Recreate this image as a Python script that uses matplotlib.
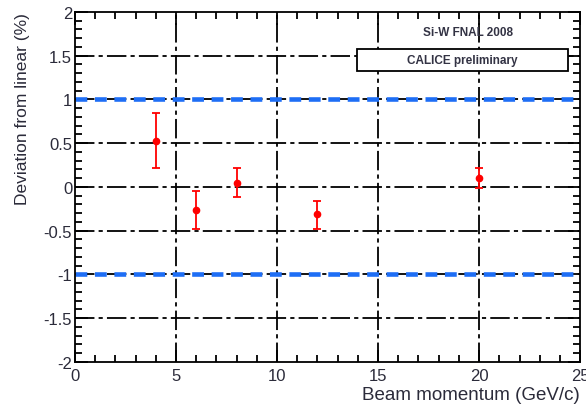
import matplotlib
matplotlib.use("Agg")
import matplotlib.pyplot as plt
from matplotlib.ticker import MultipleLocator
from matplotlib.patches import Rectangle

plt.rcParams['font.family'] = ['Liberation Sans', 'DejaVu Sans']
plt.rcParams['lines.scale_dashes'] = False

momentum = [4, 6, 8, 12, 20]
deviation = [0.52, -0.26, 0.05, -0.31, 0.10]
err_up = [0.32, 0.21, 0.17, 0.15, 0.12]
err_down = [0.30, 0.22, 0.17, 0.17, 0.115]
band = [1.0, -1.0]
x_ticks = [0, 5, 10, 15, 20, 25]
y_ticks = [-2, -1.5, -1, -0.5, 0, 0.5, 1, 1.5, 2]
y_ticklabels = ['-2', '-1.5', '-1', '-0.5', '0', '0.5', '1', '1.5', '2']

txt = '#2b2b3a'
fig = plt.figure(figsize=(5.86, 4.06), dpi=100)
ax = fig.add_axes([0.128, 0.106, 0.862, 0.862])
ax.set_xlim(0, 25)
ax.set_ylim(-2, 2)

grid_dash = (0, (14, 3, 3, 3))
for xv in x_ticks[1:-1]:
    ax.axvline(xv, color='black', lw=1.3, linestyle=grid_dash, zorder=1)
for yv in y_ticks[1:-1]:
    ax.axhline(yv, color='black', lw=1.3, linestyle=grid_dash, zorder=1)

for b in band:
    ax.axhline(b, color='#1e6ef5', lw=3.3, linestyle=(0, (8.5, 5.5)), zorder=2)

ax.errorbar(momentum, deviation, yerr=[err_down, err_up], fmt='o', color='red',
            ms=4.5, elinewidth=1.3, capsize=3, capthick=1.3, zorder=3)

ax.set_xticks(x_ticks)
ax.set_yticks(y_ticks)
ax.set_yticklabels(y_ticklabels)
ax.xaxis.set_minor_locator(MultipleLocator(1))
ax.yaxis.set_minor_locator(MultipleLocator(0.1))
ax.tick_params(which='both', direction='in', top=True, right=True, colors='black',
               labelcolor=txt, labelsize=12, width=1.3)
ax.tick_params(which='major', length=9)
ax.tick_params(axis='x', which='major', pad=4)
ax.tick_params(axis='y', which='major', pad=2)
ax.tick_params(which='minor', length=5)
for s in ax.spines.values():
    s.set_linewidth(1.3)

ax.set_xlabel('Beam momentum (GeV/c)', fontsize=13.5, color=txt)
ax.xaxis.set_label_coords(1.0, -0.07)
ax.xaxis.label.set_horizontalalignment('right')
ax.set_ylabel('Deviation from linear (%)', fontsize=12.5, color=txt, loc='top', labelpad=10)

ax.text(0.778, 0.943, 'Si-W FNAL 2008', transform=ax.transAxes, ha='center', va='center',
        fontsize=8.5, fontweight='bold', color='#333344')
ax.add_patch(Rectangle((0.558, 0.831), 0.418, 0.063, transform=ax.transAxes,
                       fc='white', ec='black', lw=1.3, zorder=5))
ax.text(0.766, 0.8625, 'CALICE preliminary', transform=ax.transAxes, ha='center', va='center',
        fontsize=8.5, fontweight='bold', color='#333344', zorder=6)

fig.savefig('out.png', dpi=100)
